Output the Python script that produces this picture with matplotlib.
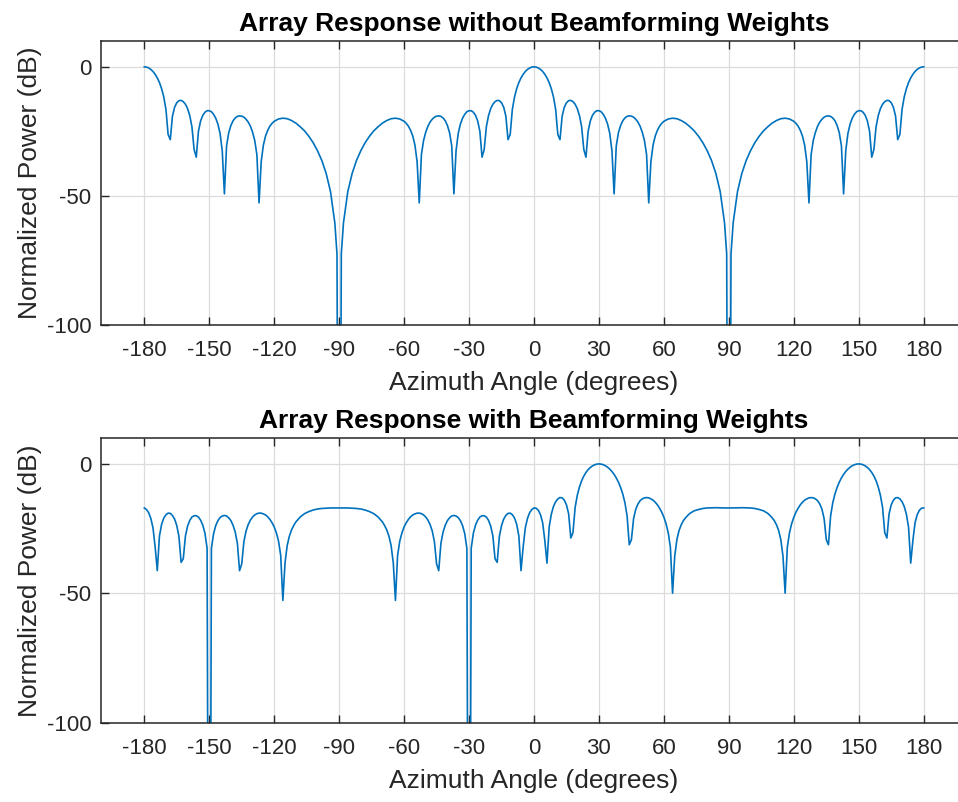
import numpy as np
import matplotlib
matplotlib.use('Agg')
import matplotlib.pyplot as plt

# values (dB), 0..90 deg for the top pattern
top_q_ang = [0,1,2,3,4,5,6,7,8,9,10,11,12,13,14,15,16,17,18,19,20,21,22,23,24,25,26,27,28,29,
             30,31,32,33,34,35,36,37,38,39,40,41,42,43,44,45,46,47,48,49,50,51,52,53,54,55,56,57,58,59,
             60,62,64,66,68,70,72,74,76,78,80,82,84,86,88,89,90]
top_q_db = [0,-0.1,-0.44,-0.99,-1.8,-2.9,-4.29,-6.1,-8.48,-11.7,
            -16.5,-26.2,-28.2,-19.1,-15.65,-13.9,-13.1,-13.0,-13.5,-14.5,
            -16.2,-18.9,-23.2,-32.0,-35.0,-25.0,-21.0,-18.8,-17.6,-17.0,
            -17.0,-17.4,-18.4,-19.9,-22.2,-25.8,-32.5,-49.2,-30.6,-25.5,
            -22.7,-20.9,-19.8,-19.2,-19.0,-19.1,-19.5,-20.3,-21.4,-23.0,
            -25.3,-28.5,-34.0,-52.7,-36.7,-30.3,-26.8,-24.6,-23.0,-21.9,
            -21.1,-20.2,-19.9,-20.1,-20.8,-21.8,-23.2,-24.8,-26.9,-29.4,-32.5,-36.3,-41.3,-48.3,-60.4,-72.4,-300]

# bottom pattern, -90..90 deg (mirrors about +/-90)
bot_h_ang = [-90,-88,-86,-84,-82,-80,-78,-76,-74,-72,-70,-69,-68,-67,-66,-65,-64,-63,-62,-61,
             -60,-59,-58,-57,-56,-55,-54,-53,-52,-51,-50,-49,-48,-47,-46,-45,-44,-43,-42,-41,
             -40,-39,-38,-37,-36,-35,-34,-33,-32,-31,-30,-29,-28,-27,-26,-25,-24,-23,-22,-21,
             -20,-19,-18,-17,-16,-15,-14,-13,-12,-11,-10,-9,-8,-7,-6,-5,-4,-3,-2,-1,
             0,1,2,3,4,5,6,7,8,9,10,11,12,13,14,15,16,17,18,19,
             20,21,22,23,24,25,26,27,28,29,30,31,32,33,34,35,36,37,38,39,
             40,41,42,43,44,45,46,47,48,49,50,51,52,53,54,55,56,57,58,59,
             60,61,62,63,64,65,66,67,68,69,70,71,72,74,76,78,80,82,84,86,88,90]
bot_h_db = [-17.0,-17.0,-17.0,-17.1,-17.2,-17.4,-17.8,-18.4,-19.2,-20.5,-22.4,-23.8,-25.5,-27.9,-31.5,-38.2,-52.7,-35.3,-29.8,-26.6,
            -24.3,-22.7,-21.4,-20.4,-19.7,-19.3,-19.0,-19.0,-19.2,-19.7,-20.5,-21.7,-23.4,-25.9,-30.0,-38.6,-41.2,-30.7,-26.3,-23.7,
            -21.9,-20.8,-20.1,-19.9,-20.1,-20.7,-21.9,-23.8,-26.9,-32.6,-300,-32.5,-26.7,-23.6,-21.7,-20.5,-20.0,-20.0,-20.5,-21.8,
            -24.0,-27.8,-36.6,-38.0,-28.0,-23.8,-21.3,-19.9,-19.1,-19.0,-19.6,-20.9,-23.3,-27.8,-41.2,-32.0,-24.6,-21.0,-18.8,-17.6,
            -17.0,-17.1,-17.9,-19.6,-22.7,-29.6,-38.3,-24.4,-19.4,-16.4,-14.6,-13.5,-13.0,-13.1,-14.0,-15.8,-19.3,-28.6,-26.5,-16.8,
            -12.1,-8.9,-6.5,-4.7,-3.3,-2.2,-1.4,-0.77,-0.34,-0.08,0,-0.08,-0.32,-0.72,-1.28,-2.01,-2.93,-4.05,-5.41,-7.05,
            -9.08,-11.6,-15.0,-20.1,-31.2,-29.2,-21.1,-17.5,-15.5,-14.2,-13.5,-13.1,-13.0,-13.1,-13.5,-14.0,-14.8,-15.8,-17.1,-18.6,
            -20.6,-23.1,-26.6,-32.2,-49.9,-35.6,-29.2,-25.7,-23.5,-21.9,-20.8,-19.9,-19.1,-18.1,-17.6,-17.2,-17.0,-16.95,-16.9,-16.96,-17.0,-17.0]

x_ticks = [-180,-150,-120,-90,-60,-30,0,30,60,90,120,150,180]
y_ticks = [-100,-50,0]
titles = ['Array Response without Beamforming Weights',
          'Array Response with Beamforming Weights']


def full_top(ang, db):
    pts = {}
    for a, v in zip(ang, db):
        for b in (a, -a, 180 - a, a - 180):
            pts[b] = v
    k = sorted(pts)
    return np.array(k), np.array([pts[b] for b in k])


def full_bottom(ang, db):
    pts = {}
    for a, v in zip(ang, db):
        pts[a] = v
        if 0 <= a < 90:
            pts[180 - a] = v
        if -90 < a <= 0:
            pts[-180 - a] = v
    k = sorted(pts)
    return np.array(k), np.array([pts[b] for b in k])


plt.rcParams['font.family'] = ['Liberation Sans', 'DejaVu Sans']
plt.rcParams['axes.unicode_minus'] = False
plt.rcParams['savefig.bbox'] = 'standard'
txt = '#262626'

fig = plt.figure(figsize=(9.58, 8.02), dpi=100)
ax1 = fig.add_axes([101/958, 1-325/802, 866/958, 284/802])
ax2 = fig.add_axes([101/958, 1-723/802, 866/958, 285/802])

curves = [full_top(top_q_ang, top_q_db), full_bottom(bot_h_ang, bot_h_db)]

for ax, (x, y), t in zip([ax1, ax2], curves, titles):
    ax.plot(x, y, color='#0072BD', lw=1.2)
    ax.set_xlim(-200, 200)
    ax.set_ylim(-100, 10)
    ax.set_xticks(x_ticks)
    ax.set_yticks(y_ticks)
    ax.grid(True, color='#dcdcdc', lw=0.9)
    ax.set_axisbelow(True)
    ax.tick_params(direction='in', length=6, width=1.0, colors=txt, labelsize=16,
                   top=True, right=False)
    ax.tick_params(axis='x', pad=11)
    ax.tick_params(axis='y', pad=7)
    for s in ax.spines.values():
        s.set_color(txt)
        s.set_linewidth(1.1)
    # the reference is cut off before its right-hand box edge
    ax.spines['right'].set_visible(False)
    ax.set_xlabel('Azimuth Angle (degrees)', fontsize=19, color=txt, labelpad=7)
    ax.set_ylabel('Normalized Power (dB)', fontsize=19, color=txt, labelpad=3)
    ax.set_title(t, fontsize=19, fontweight='bold', color='black', pad=7)

fig.savefig('out.png', dpi=100)
